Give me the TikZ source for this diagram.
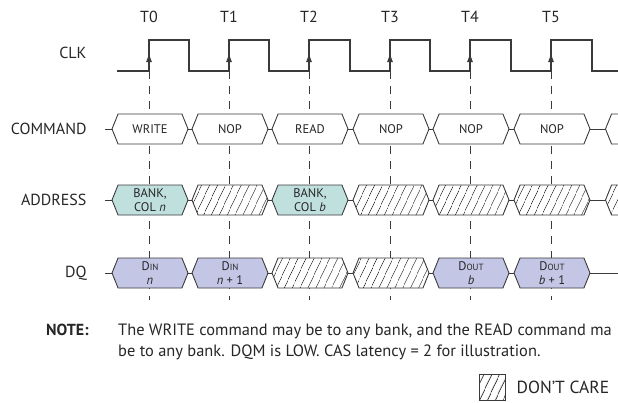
\documentclass[tikz,border=0pt]{standalone}
\usepackage{fontspec}
\setmainfont{PT Sans}
\usepackage{xcolor}
\definecolor{addrfill}{HTML}{C0E0DE}
\definecolor{dqfill}{HTML}{C4C6E6}
\definecolor{wave}{HTML}{3A3A3A}
\usepackage{tikz}
\usetikzlibrary{arrows.meta,shapes.symbols,patterns.meta,positioning}
\newcommand{\Din}{D{\fontsize{9}{9}\selectfont IN}}
\newcommand{\Dout}{D{\fontsize{9}{9}\selectfont OUT}}

\begin{document}
\begin{tikzpicture}[x=1pt,y=-1pt,text=black!85]
              \tikzstyle{lbl}=[anchor=east,font=\fontsize{16}{19}\selectfont]
              \tikzstyle{tick}=[font=\fontsize{16}{19}\selectfont]
              \tikzstyle{clk}=[draw=wave,line width=1.2pt]
              \tikzstyle{grid}=[draw=wave,line width=0.8pt,dash pattern=on 8pt off 7pt]
              \tikzstyle{edge}=[draw=wave,line width=0.9pt]
              \tikzstyle{hatch}=[preaction={fill=white},pattern={Lines[angle=65,distance=6.5pt,line width=0.75pt]},pattern color=black!80]
              \tikzstyle{hex}=[signal,signal to=east and west,signal pointer angle=136,minimum width=76pt,minimum height=30pt,inner sep=0pt,draw=wave,line width=0.9pt,align=center,font=\fontsize{12.5}{14}\selectfont]
              \tikzstyle{cmd}=[hex,fill=white]
              \tikzstyle{addr}=[hex,fill=addrfill]
              \tikzstyle{dq}=[hex,fill=dqfill]
              \tikzstyle{dc}=[hex,hatch]

              \useasboundingbox (0,0) rectangle (618,402);

              % clock edges and guide lines
              \foreach \i/\x in {0/149,1/229,2/309,3/390,4/470,5/551}{
                \coordinate (e\i) at (\x,71);
                \coordinate (up\i) at (\x,53);
                \coordinate (b\i) at (\x,300);
                \node[tick] (t\i) at (\x,17) {T\i};
                \draw[grid] (e\i) -- (b\i);
              }

              \coordinate (cs) at (117,71);
              \coordinate (ce) at (625,71);
              \draw[clk] (cs) -| (149,40) -| (189,71) -| (229,40) -| (269,71) -| (309,40) -| (350,71)
                         -| (390,40) -| (430,71) -| (470,40) -| (511,71) -| (551,40) -| (592,71) -- (ce);
              \foreach \i in {0,...,5}
                \draw[edge,-{Latex[length=9pt,width=6pt]}] (e\i) -- (up\i);

              % row labels
              \node[lbl] (clkl)  at (90,53)  {CLK};
              \node[lbl] (cmdl)  at (90,129) {COMMAND};
              \node[lbl] (addrl) at (90,200) {ADDRESS};
              \node[lbl] (dql)   at (90,273) {DQ};

              % command
              \node[cmd] (c0) at (150,129) {WRITE};
              \node[cmd] (c1) at (230,129) {NOP};
              \node[cmd] (c2) at (310,129) {READ};
              \node[cmd] (c3) at (391,129) {NOP};
              \node[cmd] (c4) at (471,129) {NOP};
              \node[cmd] (c5) at (552,129) {NOP};
              \node[cmd,anchor=west] (c6) at (605,129) {};
              \coordinate (cin) at (105,129);

              % address
              \node[addr] (ad0) at (150,200) {BANK,\\COL \textit{n}};
              \node[dc]   (ad1) at (230,200) {};
              \node[addr] (ad2) at (310,200) {BANK,\\COL \textit{b}};
              \node[dc]   (ad3) at (391,200) {};
              \node[dc]   (ad4) at (471,200) {};
              \node[dc]   (ad5) at (552,200) {};
              \node[dc,anchor=west] (ad6) at (605,200) {};
              \coordinate (adin) at (105,200);

              % data
              \node[dq] (dq0) at (150,273) {\Din\\\textit{n}};
              \node[dq] (dq1) at (230,273) {\Din\\\textit{n} + 1};
              \node[dc] (dq2) at (310,273) {};
              \node[dc] (dq3) at (391,273) {};
              \node[dq] (dq4) at (471,273) {\Dout\\\textit{b}};
              \node[dq] (dq5) at (552,273) {\Dout\\\textit{b} + 1};
              \coordinate (dqin) at (105,273);
              \coordinate (dqout) at (625,273);

              \path (cin)  edge[edge] (c0.west)  (c0.east)  edge[edge] (c1.west)  (c1.east)  edge[edge] (c2.west)
                    (c2.east)  edge[edge] (c3.west)  (c3.east)  edge[edge] (c4.west)  (c4.east)  edge[edge] (c5.west)
                    (c5.east)  edge[edge] (c6.west)
                    (adin) edge[edge] (ad0.west) (ad0.east) edge[edge] (ad1.west) (ad1.east) edge[edge] (ad2.west)
                    (ad2.east) edge[edge] (ad3.west) (ad3.east) edge[edge] (ad4.west) (ad4.east) edge[edge] (ad5.west)
                    (ad5.east) edge[edge] (ad6.west)
                    (dqin) edge[edge] (dq0.west) (dq0.east) edge[edge] (dq1.west) (dq1.east) edge[edge] (dq2.west)
                    (dq2.east) edge[edge] (dq3.west) (dq3.east) edge[edge] (dq4.west) (dq4.east) edge[edge] (dq5.west)
                    (dq5.east) edge[edge] (dqout);

              % note and legend
              \node[anchor=north west,inner sep=0pt,font=\bfseries\fontsize{16}{20.5}\selectfont] (note) at (46,324) {NOTE:};
              \node[anchor=north west,inner sep=0pt,align=left,font=\fontsize{16.4}{20.5}\selectfont] (notetxt) at (118,324)
                   {The WRITE command may be to any bank, and the READ command ma\\be to any bank. DQM is LOW. CAS latency = 2 for illustration.};
              \node[draw=wave,line width=0.8pt,minimum size=26pt,inner sep=0pt,hatch] (dcbox) at (492,387) {};
              \node[right=11pt of dcbox,inner sep=0pt,font=\fontsize{17.5}{20}\selectfont] (dctxt) {DON’T CARE};
       \end{tikzpicture}
\end{document}
